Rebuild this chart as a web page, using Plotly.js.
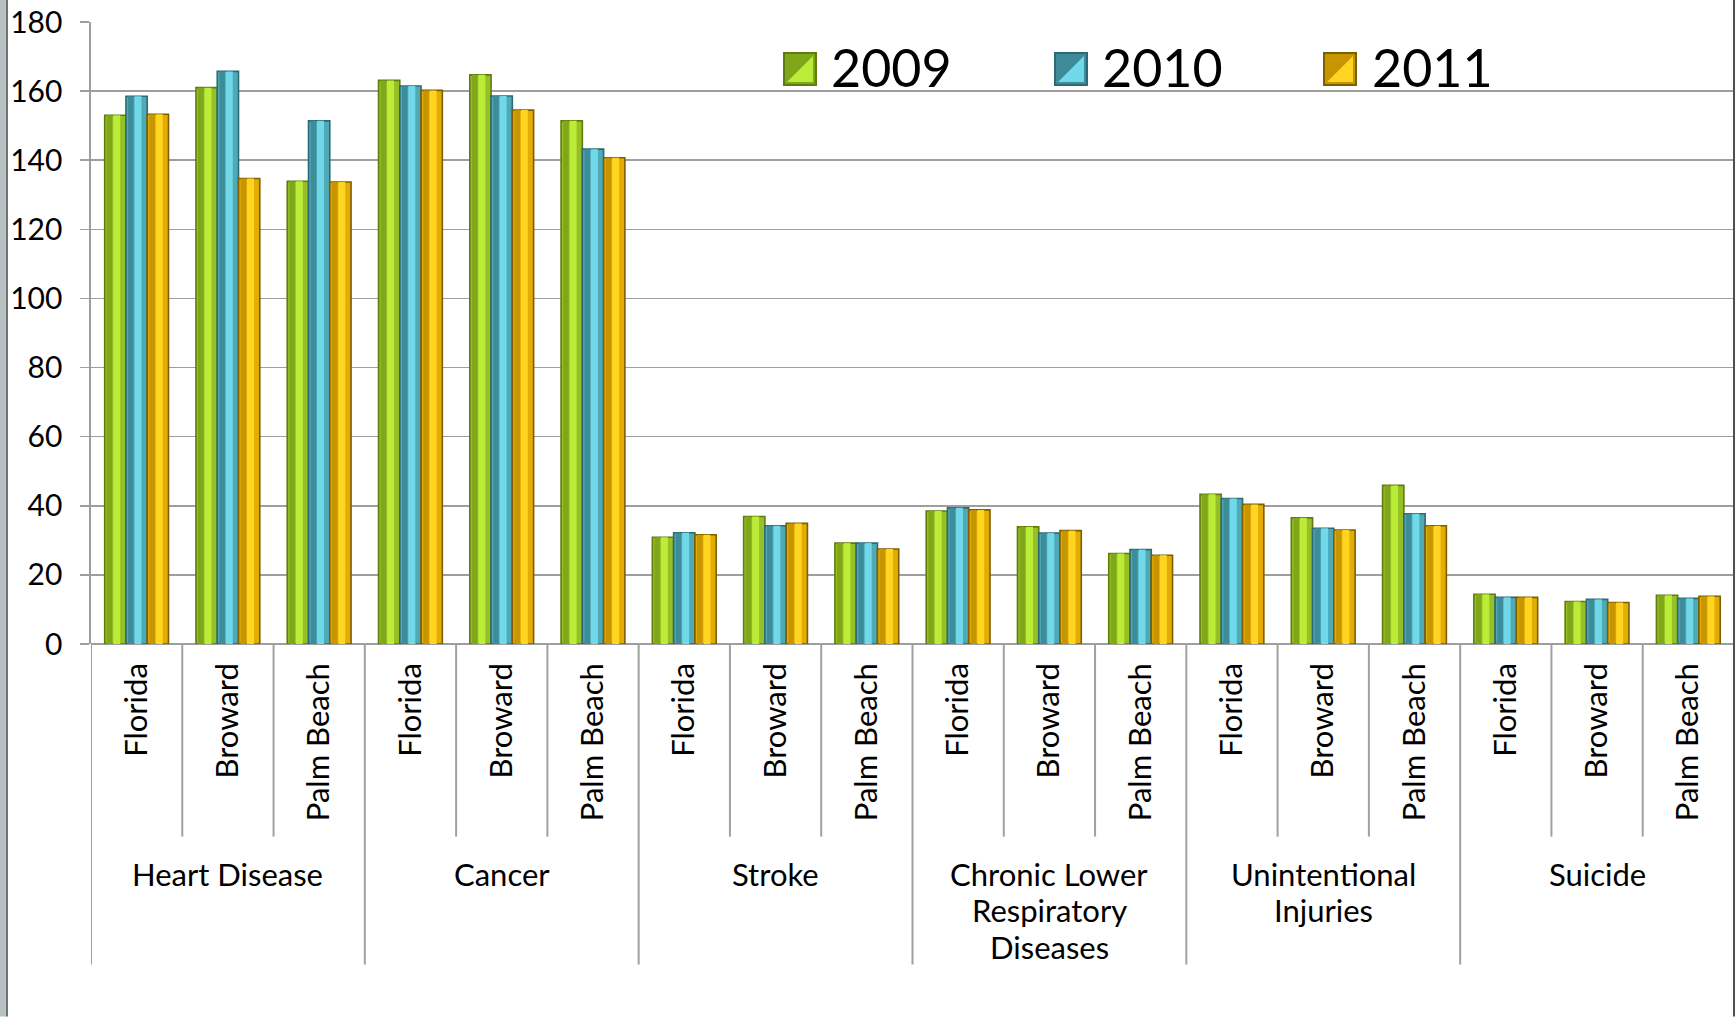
<!DOCTYPE html>
<html>
<head>
<meta charset="utf-8">
<script src="https://cdn.plot.ly/plotly-3.0.1.min.js"></script>
<style>
  html, body { margin: 0; padding: 0; background: #ffffff; }
  #chart { width: 1735px; height: 1017px; }
</style>
</head>
<body>
<div id="chart"></div>
<script>
// ---- data ----
const groups = ["Heart Disease", "Cancer", "Stroke", "Chronic Lower Respiratory Diseases", "Unintentional Injuries", "Suicide"];
const groupLabels = ["Heart Disease", "Cancer", "Stroke", "Chronic Lower<br>Respiratory<br>Diseases", "Unintentional<br>Injuries", "Suicide"];
const areas = ["Florida", "Broward", "Palm Beach"];
const seriesNames = ["2009", "2010", "2011"];
const y2009 = [153.0, 161.0, 133.9, 163.1, 164.7, 151.4, 30.9, 36.9, 29.2, 38.5, 33.9, 26.2, 43.3, 36.5, 45.9, 14.4, 12.3, 14.1];
const y2010 = [158.5, 165.7, 151.4, 161.5, 158.6, 143.2, 32.2, 34.2, 29.2, 39.4, 32.1, 27.3, 42.1, 33.5, 37.7, 13.5, 12.9, 13.2];
const y2011 = [153.3, 134.7, 133.7, 160.2, 154.5, 140.7, 31.6, 34.9, 27.5, 38.8, 32.8, 25.7, 40.4, 33.0, 34.2, 13.5, 12.0, 13.8];
const yTicks = [0, 20, 40, 60, 80, 100, 120, 140, 160, 180];

// ---- styles ----
const palettes = [
  {base: "#96C025", edge: "#5F7D0E", shade: "#80A619", light: "#BBEC38"},
  {base: "#4FAAB8", edge: "#2D6A74", shade: "#3E8C99", light: "#70D8E8"},
  {base: "#E3AD05", edge: "#7D5E00", shade: "#C69500", light: "#FFD521"}
];
const FONT = "Lato, 'Open Sans', 'DejaVu Sans', sans-serif";

// category keys (one per group x area)
const keys = [], subText = [];
groups.forEach(g => areas.forEach(a => { keys.push(g + " | " + a); subText.push(a); }));

const seriesVals = [y2009, y2010, y2011];
const w = 0.233;
const traces = [];
seriesVals.forEach((vals, s) => {
  const p = palettes[s];
  const o = -0.35 + s * w;
  traces.push({type: "bar", x: keys, y: vals, name: seriesNames[s], offset: o, width: w,
    marker: {color: p.base, line: {color: p.edge, width: 1.6}}, showlegend: false, hoverinfo: "skip"});
  traces.push({type: "bar", x: keys, y: vals, name: seriesNames[s] + " shade", offset: o + 0.1 * w, width: 0.26 * w,
    marker: {color: p.shade, line: {width: 0}}, showlegend: false, hoverinfo: "skip"});
  traces.push({type: "bar", x: keys, y: vals, name: seriesNames[s] + " light", offset: o + 0.4 * w, width: 0.33 * w,
    marker: {color: p.light, line: {width: 0}}, showlegend: false, hoverinfo: "skip"});
});

// pixel helpers for decorations outside plot area
const L = 91, R = 1734, T = 22, B = 644.3;
const px = v => (v - L) / (R - L);
const py = v => (B - v) / (B - T);

const shapes = [];
// dividers under x axis
for (let i = 0; i <= keys.length; i++) {
  const isGroup = i % areas.length === 0;
  shapes.push({type: "line", xref: "x", yref: "paper", x0: i - 0.5, x1: i - 0.5,
    y0: 0, y1: isGroup ? py(965) : py(837), line: {color: "#A0A0A0", width: 2}, layer: "below"});
}
// frame bits
shapes.push({type: "rect", xref: "paper", yref: "paper", x0: px(0), x1: px(7), y0: py(1017), y1: py(0),
  fillcolor: "#B9C0C2", line: {width: 0}});
shapes.push({type: "line", xref: "paper", yref: "paper", x0: px(7), x1: px(7), y0: py(1017), y1: py(0),
  line: {color: "#6E7577", width: 2}});
shapes.push({type: "line", xref: "paper", yref: "paper", x0: px(1734), x1: px(1734), y0: py(1017), y1: py(0),
  line: {color: "#505050", width: 2}});

// custom legend
const annotations = [];
const legIconX = [784, 1055, 1324];
const legTextX = [829, 1100, 1370];
seriesNames.forEach((n, s) => {
  const p = palettes[s];
  const x0 = legIconX[s], x1 = x0 + 32, y0 = 53, y1 = 85;
  shapes.push({type: "rect", xref: "paper", yref: "paper", x0: px(x0), x1: px(x1), y0: py(y1), y1: py(y0),
    fillcolor: p.shade, line: {color: p.edge, width: 2}});
  shapes.push({type: "path", xref: "paper", yref: "paper",
    path: `M ${px(x1 - 3)} ${py(y0 + 3)} L ${px(x1 - 3)} ${py(y1 - 3)} L ${px(x0 + 3)} ${py(y1 - 3)} Z`,
    fillcolor: p.light, line: {width: 0}});
  annotations.push({xref: "paper", yref: "paper", x: px(legTextX[s]), y: py(67.5), xanchor: "left", yanchor: "middle",
    text: n, showarrow: false, font: {family: FONT, size: 52, color: "#000000"}});
});

// group labels (one annotation per line, for tighter line spacing)
groupLabels.forEach((g, k) => {
  g.split("<br>").forEach((line, j) => {
    annotations.push({xref: "x", yref: "paper", x: keys[k * areas.length + 1], y: py(874 + j * 36.5),
      xanchor: "center", yanchor: "middle",
      text: line, showarrow: false, font: {family: FONT, size: 31, color: "#000000"}});
  });
});

const layout = {
  width: 1735, height: 1017,
  margin: {l: L, r: 1735 - R, t: T, b: 1017 - B, pad: 0},
  paper_bgcolor: "#ffffff", plot_bgcolor: "#ffffff",
  barmode: "overlay",
  showlegend: false,
  font: {family: FONT, color: "#000000"},
  xaxis: {type: "category", categoryorder: "array", categoryarray: keys, range: [-0.5, keys.length - 0.5],
    tickmode: "array", tickvals: keys, ticktext: subText, tickangle: -90,
    tickfont: {family: FONT, size: 31, color: "#000000"}, ticks: "", showgrid: false, showline: false,
    zeroline: false, fixedrange: true, ticklabelstandoff: 12},
  yaxis: {range: [0, 180], tickmode: "array", tickvals: yTicks, ticktext: yTicks.map(String),
    tickfont: {family: FONT, size: 30, color: "#000000"},
    showgrid: true, gridcolor: "#9E9E9E", gridwidth: 1.6,
    zeroline: true, zerolinecolor: "#9E9E9E", zerolinewidth: 1.6,
    showline: true, linecolor: "#9E9E9E", linewidth: 1.6,
    ticks: "outside", ticklen: 9, tickcolor: "#9E9E9E", tickwidth: 1.6, ticklabelstandoff: 12, fixedrange: true},
  shapes: shapes,
  annotations: annotations
};

Plotly.newPlot("chart", traces, layout, {displayModeBar: false, staticPlot: true});
</script>
</body>
</html>
